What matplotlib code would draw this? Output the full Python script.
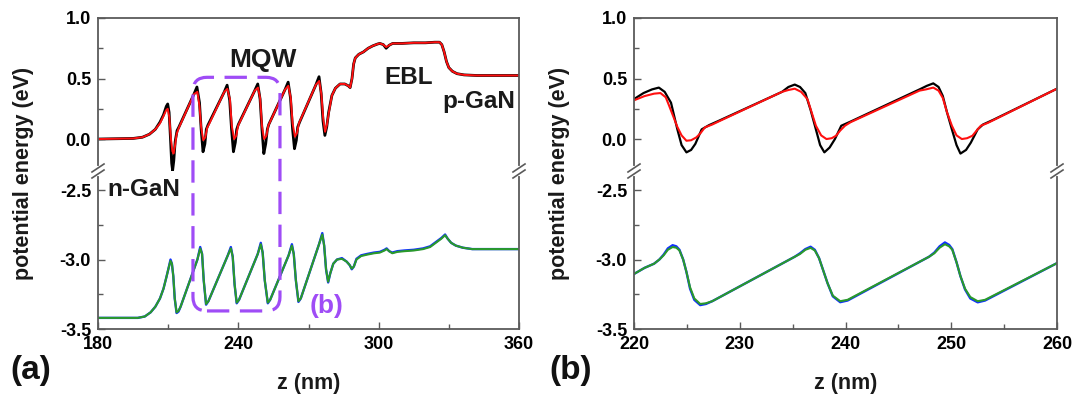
import matplotlib
matplotlib.use("Agg")
import matplotlib.pyplot as plt
from matplotlib.patches import FancyBboxPatch
from matplotlib.lines import Line2D
from matplotlib.transforms import IdentityTransform

plt.rcParams['font.family'] = ['Liberation Sans', 'DejaVu Sans']
plt.rcParams['font.weight'] = 'bold'

# ---------------- data: panel (a) ----------------
a_black_z = [180, 195, 199, 202, 204.5, 206.5, 208, 209.2, 209.8, 210.4, 211.0, 211.5, 211.9, 212.4, 213.0, 213.8, 214.6,
             221.0, 222.3, 223.4, 224.1, 224.9, 225.7, 226.3, 227.0,
             234.0, 235.2, 236.3, 237.1, 237.9, 238.7, 239.3, 240.0,
             247.0, 248.3, 249.3, 250.1, 250.9, 251.7, 252.4, 253.0,
             260.0, 261.3, 262.3, 263.2, 264.0, 264.8, 265.4, 266.2,
             273.2, 274.5, 275.4, 276.2, 277.0, 277.8, 278.6, 280.0, 281.5, 283.5, 285.5, 287.0, 287.8,
             288.6, 289.3, 290.0, 291.5, 293.5, 295.5, 297.5, 299.5, 300.5, 302.0, 303.2, 304.5, 306.0,
             310, 315, 320, 324, 326.0, 327.0, 328.0, 329.0, 330.0, 331.5, 333.5, 336.5, 342, 360]
a_black_e = [0.0, 0.005, 0.015, 0.04, 0.08, 0.14, 0.2, 0.27, 0.29, 0.22, 0.0, -0.2, -0.26, -0.18, -0.02, 0.07, 0.1,
             0.37, 0.43, 0.30, 0.08, -0.105, -0.04, 0.08, 0.115,
             0.39, 0.445, 0.32, 0.08, -0.105, -0.03, 0.08, 0.12,
             0.40, 0.455, 0.33, 0.08, -0.12, -0.04, 0.08, 0.12,
             0.41, 0.47, 0.34, 0.08, -0.08, -0.01, 0.10, 0.14,
             0.45, 0.515, 0.38, 0.15, 0.03, 0.10, 0.22, 0.36, 0.42, 0.455, 0.455, 0.44, 0.425,
             0.50, 0.62, 0.67, 0.70, 0.72, 0.75, 0.77, 0.785, 0.79, 0.78, 0.75, 0.775, 0.79,
             0.79, 0.795, 0.795, 0.80, 0.80, 0.78, 0.72, 0.64, 0.59, 0.56, 0.54, 0.53, 0.525, 0.525]

a_red_z = [180, 195, 199, 202, 204.5, 206.5, 208, 209.2, 209.8, 210.5, 211.2, 211.8, 212.3, 212.9, 213.6, 214.5,
           221.0, 222.5, 223.4, 224.1, 225.0, 225.9, 226.7, 227.4,
           234.0, 235.3, 236.4, 237.2, 238.2, 239.1, 239.9,
           247.0, 248.4, 249.3, 250.1, 251.0, 252.0, 252.8,
           260.0, 261.4, 262.4, 263.2, 264.2, 265.1, 265.9,
           273.2, 274.6, 275.5, 276.3, 277.1, 277.9, 278.7, 280.0, 281.5, 283.5, 285.5, 287.0, 287.8,
           288.6, 289.3, 290.0, 291.5, 293.5, 295.5, 297.5, 299.5, 300.5, 302.0, 303.2, 304.5, 306.0,
           310, 315, 320, 324, 326.0, 327.0, 328.0, 329.0, 330.0, 331.5, 333.5, 336.5, 342, 360]
a_red_e = [0.0, 0.005, 0.015, 0.04, 0.08, 0.13, 0.19, 0.24, 0.25, 0.18, 0.0, -0.10, -0.12, -0.06, 0.04, 0.09,
           0.37, 0.39, 0.27, 0.10, -0.01, 0.015, 0.095, 0.12,
           0.39, 0.415, 0.33, 0.11, 0.0, 0.027, 0.11,
           0.40, 0.425, 0.34, 0.11, 0.0, 0.027, 0.11,
           0.41, 0.44, 0.34, 0.13, 0.02, 0.05, 0.13,
           0.45, 0.48, 0.37, 0.17, 0.06, 0.12, 0.22, 0.36, 0.42, 0.455, 0.455, 0.44, 0.425,
           0.50, 0.62, 0.67, 0.70, 0.72, 0.75, 0.77, 0.785, 0.79, 0.78, 0.76, 0.775, 0.79,
           0.79, 0.795, 0.795, 0.80, 0.80, 0.78, 0.72, 0.64, 0.59, 0.56, 0.54, 0.53, 0.525, 0.525]

a_green_z = [180, 197, 200, 202.5, 204.5, 206.5, 208, 209.2, 210.2, 211.0, 211.6, 212.2, 212.8, 213.6, 214.4, 215.3,
             222.5, 223.7, 224.5, 225.2, 226.2, 227.2,
             235.5, 236.8, 237.6, 238.4, 239.3, 240.3,
             248.3, 249.6, 250.4, 251.3, 252.6, 253.6,
             261.5, 262.9, 263.7, 264.6, 265.7, 266.7,
             274.5, 275.9, 276.7, 277.5, 278.4, 279.3, 280.6, 282.2, 284.3, 286.3, 287.6, 288.5, 289.4, 290.5,
             292.5, 295, 298, 300.5, 302.5, 303.4, 304.5, 305.8, 308, 311, 315, 319, 322, 324.8, 326.8, 328.4,
             329.5, 331.0, 333, 336, 340, 360]
a_green_e = [-3.42, -3.42, -3.41, -3.38, -3.34, -3.28, -3.21, -3.13, -3.06, -3.01, -3.03, -3.12, -3.28, -3.38, -3.37, -3.34,
             -3.0, -2.92, -2.96, -3.15, -3.32, -3.30,
             -2.97, -2.92, -2.98, -3.18, -3.31, -3.29,
             -2.96, -2.89, -2.95, -3.15, -3.31, -3.29,
             -2.97, -2.90, -2.96, -3.15, -3.30, -3.28,
             -2.89, -2.82, -2.90, -3.07, -3.16, -3.10, -3.03, -3.0, -2.995, -3.015, -3.04, -3.066, -3.05, -3.0,
             -2.975, -2.965, -2.955, -2.95, -2.935, -2.925, -2.94, -2.955, -2.945, -2.94, -2.935, -2.925, -2.91,
             -2.875, -2.85, -2.825, -2.85, -2.88, -2.9, -2.915, -2.925, -2.925]
a_blue_e = [-3.42, -3.42, -3.41, -3.38, -3.34, -3.28, -3.21, -3.13, -3.06, -3.0, -3.03, -3.12, -3.28, -3.385, -3.375, -3.34,
            -3.0, -2.91, -2.96, -3.15, -3.325, -3.30,
            -2.97, -2.91, -2.98, -3.18, -3.315, -3.29,
            -2.96, -2.88, -2.95, -3.15, -3.315, -3.29,
            -2.97, -2.89, -2.96, -3.15, -3.305, -3.28,
            -2.89, -2.81, -2.90, -3.07, -3.165, -3.10, -3.03, -3.0, -2.99, -3.015, -3.04, -3.07, -3.05, -2.995,
            -2.97, -2.96, -2.95, -2.945, -2.93, -2.92, -2.94, -2.95, -2.94, -2.935, -2.93, -2.92, -2.905,
            -2.87, -2.845, -2.82, -2.85, -2.88, -2.9, -2.915, -2.925, -2.925]

# ---------------- data: panel (b) ----------------
b_black_z = [220, 220.9, 221.7, 222.35, 222.9, 223.5, 224.1, 224.5, 224.96, 225.4, 225.8, 226.4, 227.1, 228,
             234.0, 234.6, 235.2, 235.7, 236.2, 236.7, 237.2, 237.6, 238.0, 238.5, 239.0, 239.6, 240.5,
             247.0, 247.7, 248.3, 248.8, 249.2, 249.6, 250.06, 250.5, 250.87, 251.4, 251.85, 252.5, 253.0, 254.0, 260]
b_black_e = [0.33, 0.38, 0.41, 0.425, 0.39, 0.30, 0.08, -0.05, -0.11, -0.09, -0.04, 0.08, 0.115, 0.15,
             0.39, 0.43, 0.45, 0.43, 0.38, 0.24, 0.08, -0.05, -0.11, -0.07, 0.0, 0.11, 0.145,
             0.41, 0.44, 0.46, 0.43, 0.356, 0.22, 0.08, -0.05, -0.12, -0.09, -0.03, 0.08, 0.12, 0.16, 0.416]

b_red_z = [220, 221.0, 221.9, 222.5, 223.0, 223.3, 223.7, 224.1, 224.5, 224.96, 225.4, 225.9, 226.3, 226.7, 227.4, 228,
           234.0, 234.6, 235.2, 235.8, 236.4, 236.8, 237.2, 237.7, 238.2, 238.7, 239.1, 239.5, 239.95, 240.5,
           247.0, 247.6, 248.3, 248.8, 249.2, 249.6, 250.06, 250.5, 251.0, 251.5, 252.0, 252.4, 252.8, 253.5, 260]
b_red_e = [0.32, 0.355, 0.375, 0.38, 0.345, 0.28, 0.19, 0.10, 0.03, -0.014, -0.01, 0.014, 0.05, 0.096, 0.12, 0.145,
           0.39, 0.405, 0.416, 0.39, 0.33, 0.22, 0.11, 0.03, 0.0, 0.007, 0.027, 0.07, 0.11, 0.14,
           0.40, 0.41, 0.425, 0.40, 0.34, 0.22, 0.11, 0.03, 0.0, 0.007, 0.027, 0.07, 0.11, 0.135, 0.416]

b_green_z = [220, 221.0, 221.9, 222.4, 222.8, 223.2, 223.65, 224.0, 224.3, 224.65, 224.96, 225.3, 225.7, 226.26, 226.8, 227.4,
             235.2, 235.7, 236.2, 236.7, 237.1, 237.5, 237.9, 238.3, 238.8, 239.5, 240.2,
             247.9, 248.4, 248.9, 249.4, 249.8, 250.1, 250.5, 250.87, 251.3, 251.8, 252.5, 253.2, 260]
b_green_e = [-3.104, -3.06, -3.03, -3.0, -2.97, -2.93, -2.91, -2.915, -2.935, -3.0, -3.09, -3.2, -3.28, -3.32, -3.315, -3.30,
             -2.98, -2.96, -2.93, -2.916, -2.935, -2.99, -3.08, -3.17, -3.26, -3.30, -3.29,
             -2.98, -2.955, -2.915, -2.89, -2.905, -2.93, -3.02, -3.12, -3.21, -3.27, -3.30, -3.29, -3.026]
b_blue_e = [-3.104, -3.06, -3.03, -3.0, -2.965, -2.92, -2.897, -2.905, -2.93, -3.0, -3.09, -3.21, -3.29, -3.328, -3.32, -3.30,
            -2.98, -2.955, -2.925, -2.908, -2.93, -2.99, -3.08, -3.17, -3.265, -3.307, -3.295,
            -2.98, -2.95, -2.905, -2.877, -2.895, -2.925, -3.02, -3.12, -3.215, -3.28, -3.308, -3.295, -3.026]

# labels / ticks
a_xticks = [180, 240, 300, 360]
a_xminor = [210, 270, 330]
b_xticks = [220, 230, 240, 250, 260]
b_xminor = [225, 235, 245, 255]
top_yticks = [0.0, 0.5, 1.0]
top_yminor = [0.25, 0.75]
bot_yticks = [-3.5, -3.0, -2.5]
bot_yminor = [-3.25, -2.75]
top_ylim = (-0.264, 1.0)
bot_ylim = (-3.5, -2.363)

# region box for (b) in panel (a) data coords
box_z = (220.6, 257.8)
box_e_top = 0.51
box_e_bot = -3.37

W, H = 1079, 394
fig = plt.figure(figsize=(W / 100, H / 100), dpi=100)

SPINE = '#5a5a5a'
TICKFS = 13


def fx(px):
    return px / W


def fy(py):
    return 1 - py / H


def make_pair(x0, x1):
    top = fig.add_axes([fx(x0), fy(171), fx(x1) - fx(x0), fy(18) - fy(171)])
    bot = fig.add_axes([fx(x0), fy(329), fx(x1) - fx(x0), fy(171) - fy(329)])
    for ax in (top, bot):
        for s in ax.spines.values():
            s.set_color(SPINE)
            s.set_linewidth(1.3)
        ax.tick_params(axis='both', which='both', direction='in', color=SPINE,
                       labelsize=TICKFS, width=1.0)
        ax.tick_params(axis='both', which='major', length=5, pad=5)
        ax.tick_params(axis='both', which='minor', length=3.5)
        ax.patch.set_alpha(0)
    top.spines['bottom'].set_visible(False)
    bot.spines['top'].set_visible(False)
    top.tick_params(axis='x', which='both', bottom=False, labelbottom=False)
    top.set_ylim(*top_ylim)
    bot.set_ylim(*bot_ylim)
    top.set_yticks(top_yticks)
    top.set_yticks(top_yminor, minor=True)
    bot.set_yticks(bot_yticks)
    bot.set_yticks(bot_yminor, minor=True)
    top.set_yticklabels([f"{v:.1f}" for v in top_yticks], fontweight='bold')
    bot.set_yticklabels([f"{v:.1f}" for v in bot_yticks], fontweight='bold')
    return top, bot


# panel (a)
at, ab = make_pair(98, 519)
for ax in (at, ab):
    ax.set_xlim(180, 360)
ab.set_xticks(a_xticks)
ab.set_xticks(a_xminor, minor=True)
ab.set_xticklabels([str(v) for v in a_xticks], fontweight='bold')
at.plot(a_black_z, a_black_e, color='black', lw=2.0, solid_joinstyle='round')
at.plot(a_red_z, a_red_e, color='#ff1010', lw=1.4, solid_joinstyle='round')
ab.plot(a_green_z, a_blue_e, color='#1030ff', lw=1.7, solid_joinstyle='round')
ab.plot(a_green_z, a_green_e, color='#2a9a2a', lw=1.5, solid_joinstyle='round')

# panel (b)
bt, bb = make_pair(634, 1057)
for ax in (bt, bb):
    ax.set_xlim(220, 260)
bb.set_xticks(b_xticks)
bb.set_xticks(b_xminor, minor=True)
bb.set_xticklabels([str(v) for v in b_xticks], fontweight='bold')
bt.plot(b_black_z, b_black_e, color='black', lw=1.6, solid_joinstyle='round')
bt.plot(b_red_z, b_red_e, color='#ff1010', lw=1.5, solid_joinstyle='round')
bb.plot(b_green_z, b_blue_e, color='#1030ff', lw=1.7, solid_joinstyle='round')
bb.plot(b_green_z, b_green_e, color='#2a9a2a', lw=1.5, solid_joinstyle='round')

# text annotations in panel (a)
ann_kw = dict(fontsize=17.5, fontweight='bold', ha='center', va='center', color='#1a1a1a', clip_on=False)
at.text(250.5, 0.653, 'MQW', **{**ann_kw, 'fontsize': 19})
at.text(313.0, 0.508, 'EBL', **ann_kw)
at.text(342.9, 0.309, 'p-GaN', **ann_kw)
ab.text(199.7, -2.496, 'n-GaN', **ann_kw)
PURPLE = '#9f4cf6'
ab.text(277.9, -3.332, '(b)', fontsize=19, fontweight='bold', ha='center', va='center',
        color=PURPLE, clip_on=False)

# dashed rounded box marking region (b)
fig.canvas.draw()
x0d, y0d = ab.transData.transform((box_z[0], box_e_bot))
x1d, y1d = at.transData.transform((box_z[1], box_e_top))
box = FancyBboxPatch((x0d, y0d), x1d - x0d, y1d - y0d,
                     boxstyle="round,pad=0,rounding_size=14",
                     transform=IdentityTransform(), fill=False,
                     edgecolor=PURPLE, lw=2.3, linestyle=(0, (7, 3.3)), zorder=10)
fig.add_artist(box)

# axis labels
for cx in (24, 560):
    fig.text(fx(cx), fy(173.5), 'potential energy (eV)', rotation=90, ha='center', va='center',
             fontsize=15.5, fontweight='bold', color='#1a1a1a')
for cx in (308.5, 845.5):
    fig.text(fx(cx), fy(383), 'z (nm)', ha='center', va='center', fontsize=15.5,
             fontweight='bold', color='#1a1a1a')
fig.text(fx(31), fy(371), '(a)', ha='center', va='center', fontsize=24, fontweight='bold', color='#111111')
fig.text(fx(571), fy(371), '(b)', ha='center', va='center', fontsize=24, fontweight='bold', color='#111111')

# axis break marks
yb = H - 171
for xs in (98, 519, 634, 1057):
    fig.add_artist(Line2D([fx(xs), fx(xs)], [(yb - 3) / H, (yb + 3) / H], color='white', lw=3,
                          transform=fig.transFigure, zorder=11))
    for off in (-3, 3):
        fig.add_artist(Line2D([fx(xs - 6), fx(xs + 6)], [(yb + off - 4) / H, (yb + off + 4) / H],
                              color=SPINE, lw=1.2, transform=fig.transFigure, zorder=12))

fig.savefig('out.png', dpi=100)
